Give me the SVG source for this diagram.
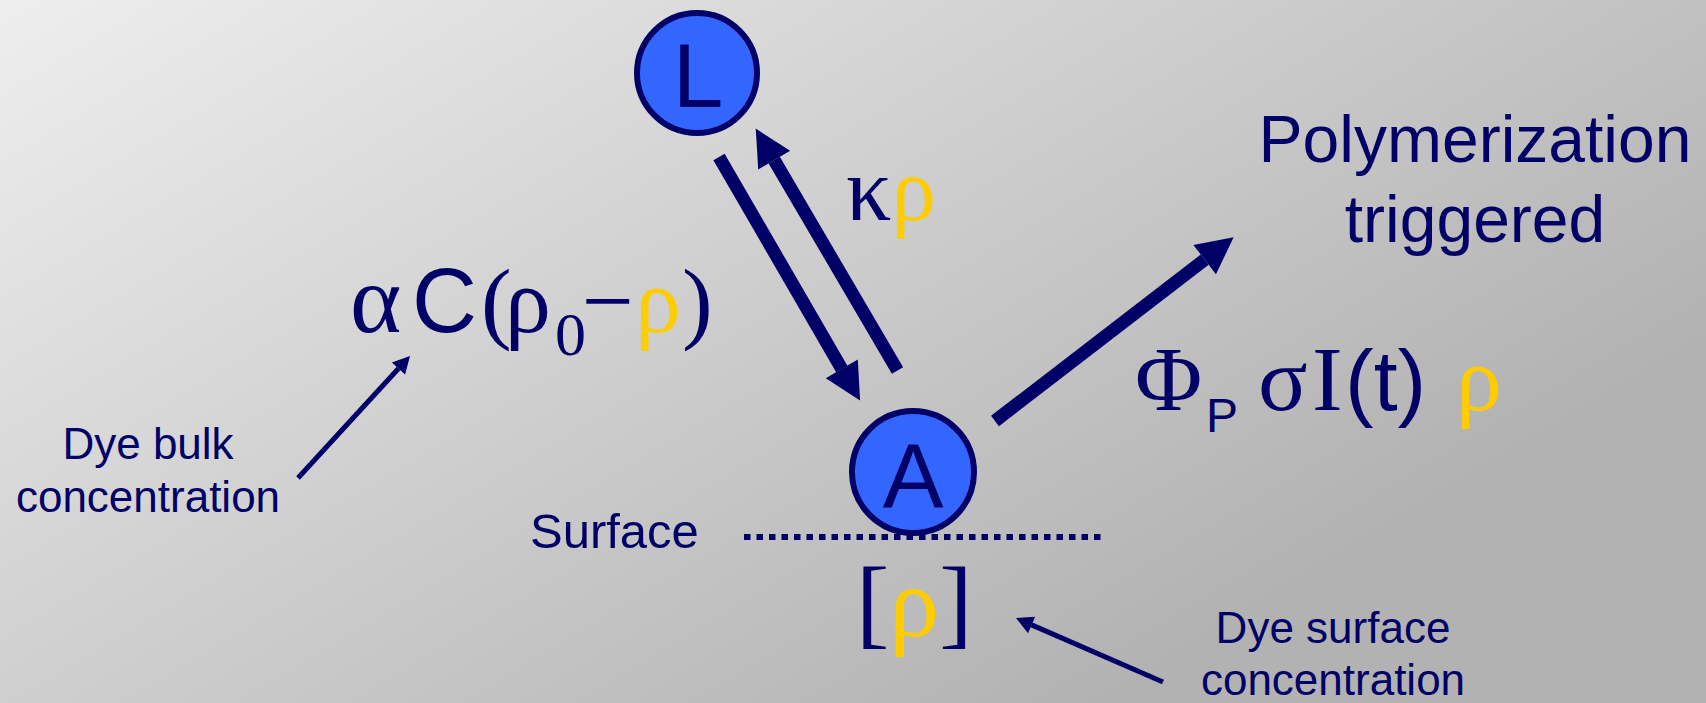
<svg xmlns="http://www.w3.org/2000/svg" width="1706" height="703" viewBox="0 0 1706 703">
<style>
.sans{font-family:"Liberation Sans",Arial,sans-serif;fill:#000066}
.serif{font-family:"Liberation Serif","Times New Roman",serif;fill:#000066}
.y{fill:#FFCC00}
.node{fill:#3366FF;stroke:#000066;stroke-width:6}
.big{stroke:#000066;stroke-width:13;fill:none}
.small{stroke:#000066;stroke-width:5;fill:none}
</style>
<defs>
<linearGradient id="bg" gradientUnits="userSpaceOnUse" x1="0" y1="0" x2="600" y2="1000">
<stop offset="0" stop-color="#eeeeee"/>
<stop offset="1" stop-color="#b2b2b2"/>
</linearGradient>
<marker id="headBig" markerUnits="userSpaceOnUse" markerWidth="40" markerHeight="40" refX="0" refY="18.5" orient="auto" viewBox="0 0 40 40" overflow="visible">
<path d="M0,0 L36.5,18.5 L0,37 z" fill="#000066"/>
</marker>
<marker id="headSmall" markerUnits="userSpaceOnUse" markerWidth="20" markerHeight="20" refX="0" refY="9" orient="auto" viewBox="0 0 20 20" overflow="visible">
<path d="M0,0 L17,9 L0,18 z" fill="#000066"/>
</marker>
</defs>
<rect x="0" y="0" width="1706" height="703" fill="url(#bg)"/>

<g id="connectors">
<line class="big" x1="719" y1="157" x2="841.8" y2="368.9" marker-end="url(#headBig)"/>
<line class="big" x1="897.5" y1="370.5" x2="774.2" y2="160.1" marker-end="url(#headBig)"/>
<line class="big" x1="995" y1="421" x2="1204.7" y2="259.6" marker-end="url(#headBig)"/>
<line class="small" x1="298" y1="478" x2="398.5" y2="368.5" marker-end="url(#headSmall)"/>
<line class="small" x1="1163" y1="682" x2="1031.6" y2="624.9" marker-end="url(#headSmall)"/>
</g>

<g id="node-L">
<circle class="node" cx="697" cy="73" r="60"/>
<text class="sans" x="698" y="107" font-size="91" text-anchor="middle">L</text>
</g>

<g id="node-A">
<circle class="node" cx="913" cy="472" r="61"/>
<text class="sans" x="913" y="507" font-size="91" text-anchor="middle">A</text>
</g>

<g id="surface">
<line x1="744" y1="537" x2="1104" y2="537" stroke="#000066" stroke-width="6" stroke-dasharray="6.5 6"/>
<text class="sans" x="530" y="548" font-size="49">Surface</text>
</g>

<g id="label-kappa">
<text class="serif" x="846" y="220" font-size="90">κ<tspan class="y">ρ</tspan></text>
</g>

<g id="label-alpha">
<text y="332" font-size="92">
<tspan class="serif" x="350" font-size="98">α</tspan><tspan class="sans" x="412" font-size="90">C</tspan><tspan class="serif" x="481">(</tspan><tspan class="serif" x="505">ρ</tspan><tspan class="serif" x="555" y="355" font-size="62">0</tspan><tspan class="serif" x="582" y="332">−</tspan><tspan class="serif y" x="635">ρ</tspan><tspan class="serif" x="682">)</tspan>
</text>
</g>

<g id="label-phi">
<text y="410" font-size="92">
<tspan class="serif" x="1135">Φ</tspan><tspan class="sans" x="1206" y="432" font-size="48">P</tspan><tspan class="serif" x="1258" y="410">σ</tspan><tspan class="serif" x="1312">I</tspan><tspan class="sans" x="1345" font-size="86">(t)</tspan><tspan class="serif y" x="1456">ρ</tspan>
</text>
</g>

<g id="node-polymerization">
<text class="sans" font-size="66" text-anchor="middle"><tspan x="1475" y="162">Polymerization</tspan><tspan x="1475" y="242">triggered</tspan></text>
</g>

<g id="label-rho">
<text class="serif" x="856" y="636" font-size="100">[<tspan class="y">ρ</tspan>]</text>
</g>

<g id="label-bulk">
<text class="sans" font-size="44" text-anchor="middle"><tspan x="148" y="459">Dye bulk</tspan><tspan x="148" y="512">concentration</tspan></text>
</g>

<g id="label-surface-conc">
<text class="sans" font-size="44" text-anchor="middle"><tspan x="1333" y="643">Dye surface</tspan><tspan x="1333" y="695">concentration</tspan></text>
</g>
</svg>
